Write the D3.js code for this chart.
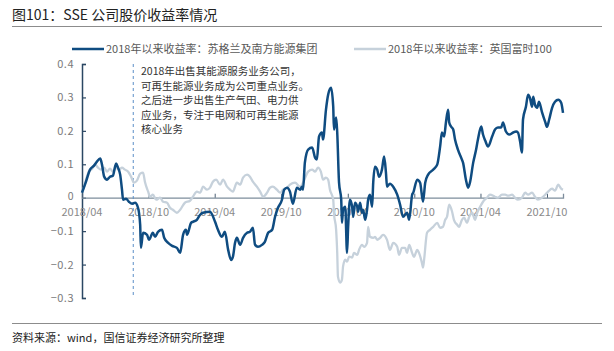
<!DOCTYPE html>
<html><head><meta charset="utf-8">
<script src="https://cdn.jsdelivr.net/npm/d3@7"></script>
<style>
html,body{margin:0;padding:0;background:#fff;}
svg{display:block;font-family:"Noto Sans CJK SC","Noto Sans",sans-serif;}
</style></head><body>
<svg id="c" width="614" height="351"></svg>
<script>
const title = "图101：SSE 公司股价收益率情况";
const source = "资料来源：wind，国信证券经济研究所整理";
const seriesNames = ["2018年以来收益率：苏格兰及南方能源集团", "2018年以来收益率：英国富时100"];
const annotationLines = ["2018年出售其能源服务业务公司，","可再生能源业务成为公司重点业务。","之后进一步出售生产气田、电力供","应业务，专注于电网和可再生能源","核心业务"];
const annotationDate = "2018-08-20";
const yTicks = [0.4, 0.3, 0.2, 0.1, 0, -0.1, -0.2, -0.3];
const xTickDates = ["2018-04-01","2018-10-01","2019-04-01","2019-10-01","2020-04-01","2020-10-01","2021-04-01","2021-10-01"];
const xTickLabels = ["2018/04","2018/10","2019/04","2019/10","2020/04","2020/10","2021/04","2021/10"];
const xDomain = ["2018-04-01","2021-11-14"];

const sseDates = ["2018-04-01","2018-04-12","2018-04-23","2018-05-04","2018-05-12","2018-05-21","2018-05-26","2018-06-01","2018-06-09","2018-06-17","2018-06-25","2018-07-01","2018-07-04","2018-07-09","2018-07-15","2018-07-20","2018-07-23","2018-07-31","2018-08-08","2018-08-17","2018-08-25","2018-09-02","2018-09-08","2018-09-10","2018-09-16","2018-09-27","2018-10-02","2018-10-13","2018-10-19","2018-10-27","2018-11-07","2018-11-13","2018-11-24","2018-12-05","2018-12-18","2018-12-27","2019-01-04","2019-01-12","2019-01-15","2019-01-26","2019-01-31","2019-02-11","2019-02-20","2019-02-28","2019-03-19","2019-04-02","2019-04-10","2019-04-21","2019-04-29","2019-05-08","2019-05-16","2019-05-21","2019-05-27","2019-06-01","2019-06-10","2019-06-18","2019-06-29","2019-07-07","2019-07-15","2019-07-21","2019-07-29","2019-08-09","2019-08-17","2019-08-26","2019-09-06","2019-09-14","2019-09-22","2019-10-03","2019-10-09","2019-10-17","2019-10-25","2019-11-02","2019-11-13","2019-11-22","2019-11-27","2019-11-30","2019-12-05","2019-12-14","2019-12-25","2020-01-02","2020-01-07","2020-01-13","2020-01-21","2020-01-24","2020-02-01","2020-02-07","2020-02-15","2020-02-21","2020-02-23","2020-02-29","2020-03-03","2020-03-08","2020-03-14","2020-03-16","2020-03-19","2020-03-25","2020-03-30","2020-04-02","2020-04-07","2020-04-13","2020-04-16","2020-04-21","2020-04-27","2020-04-29","2020-05-05","2020-05-10","2020-05-13","2020-05-19","2020-05-24","2020-05-27","2020-06-01","2020-06-07","2020-06-10","2020-06-15","2020-06-21","2020-06-26","2020-07-04","2020-07-10","2020-07-15","2020-07-18","2020-07-26","2020-08-04","2020-08-15","2020-08-23","2020-08-31","2020-09-11","2020-09-17","2020-09-25","2020-09-28","2020-10-09","2020-10-17","2020-10-25","2020-10-31","2020-11-08","2020-11-22","2020-12-03","2020-12-11","2020-12-16","2020-12-22","2020-12-27","2021-01-02","2021-01-05","2021-01-10","2021-01-16","2021-01-21","2021-01-29","2021-02-09","2021-02-12","2021-02-20","2021-02-26","2021-03-03","2021-03-12","2021-03-20","2021-03-25","2021-04-03","2021-04-08","2021-04-14","2021-04-22","2021-05-03","2021-05-11","2021-05-19","2021-05-28","2021-06-02","2021-06-10","2021-06-19","2021-06-30","2021-07-08","2021-07-13","2021-07-19","2021-07-24","2021-07-27","2021-08-04","2021-08-10","2021-08-15","2021-08-21","2021-08-24","2021-08-29","2021-09-04","2021-09-09","2021-09-17","2021-09-26","2021-10-01","2021-10-07","2021-10-15","2021-10-23","2021-11-01","2021-11-09","2021-11-14"];
const sseValues = [0.015,0.048,0.084,0.096,0.108,0.117,0.099,0.063,0.054,0.063,0.066,0.093,0.102,0.09,0.069,0.024,-0.006,-0.003,-0.012,-0.018,-0.015,-0.03,-0.081,-0.15,-0.105,-0.111,-0.126,-0.105,-0.117,-0.102,-0.096,-0.12,-0.135,-0.144,-0.15,-0.165,-0.111,-0.096,-0.111,-0.075,-0.072,-0.066,-0.051,-0.045,-0.042,-0.072,-0.096,-0.117,-0.102,-0.156,-0.186,-0.177,-0.135,-0.12,-0.141,-0.12,-0.105,-0.102,-0.09,-0.141,-0.147,-0.141,-0.132,-0.105,-0.096,-0.057,-0.03,-0.006,0.024,0.03,0.018,-0.018,0.03,0.024,0.033,0.024,0.105,0.144,0.15,0.12,0.114,0.183,0.195,0.174,0.263,0.308,0.329,0.272,0.204,0.24,0.195,0.045,-0.006,-0.075,-0.036,-0.027,-0.165,-0.087,-0.006,-0.027,-0.057,-0.015,-0.027,-0.042,-0.015,-0.045,-0.036,-0.066,-0.036,-0.006,0.009,-0.027,0.045,0.093,0.084,0.063,0.084,0.123,0.075,0.033,0.042,0.033,0.009,-0.021,-0.057,-0.045,-0.066,0.009,0.015,0.054,0.045,-0.012,0.045,0.069,0.084,0.099,0.153,0.195,0.183,0.225,0.263,0.225,0.213,0.204,0.174,0.144,0.114,0.105,0.054,0.03,0.045,0.105,0.144,0.174,0.213,0.189,0.171,0.153,0.183,0.204,0.21,0.21,0.225,0.198,0.189,0.195,0.198,0.195,0.168,0.135,0.234,0.272,0.308,0.299,0.272,0.302,0.278,0.269,0.287,0.257,0.227,0.212,0.234,0.269,0.287,0.293,0.284,0.254];

const ftseDates = ["2018-04-01","2018-04-07","2018-04-12","2018-04-20","2018-04-29","2018-05-07","2018-05-15","2018-05-23","2018-06-01","2018-06-09","2018-06-17","2018-06-25","2018-07-04","2018-07-12","2018-07-20","2018-07-28","2018-08-06","2018-08-14","2018-08-22","2018-08-30","2018-09-08","2018-09-16","2018-09-21","2018-09-30","2018-10-05","2018-10-13","2018-10-22","2018-11-02","2018-11-10","2018-11-21","2018-11-29","2018-12-07","2018-12-18","2018-12-27","2019-01-09","2019-01-23","2019-01-31","2019-02-11","2019-02-20","2019-02-28","2019-03-11","2019-03-19","2019-03-27","2019-04-05","2019-04-16","2019-04-24","2019-05-05","2019-05-13","2019-05-21","2019-06-01","2019-06-10","2019-06-18","2019-06-29","2019-07-07","2019-07-15","2019-07-26","2019-08-04","2019-08-12","2019-08-23","2019-08-31","2019-09-08","2019-09-19","2019-09-28","2019-10-06","2019-10-17","2019-10-25","2019-11-08","2019-11-22","2019-11-30","2019-12-14","2019-12-25","2020-01-02","2020-01-10","2020-01-18","2020-01-24","2020-02-01","2020-02-07","2020-02-12","2020-02-21","2020-02-23","2020-02-29","2020-03-03","2020-03-05","2020-03-11","2020-03-16","2020-03-19","2020-03-25","2020-03-30","2020-04-05","2020-04-13","2020-04-18","2020-04-27","2020-05-02","2020-05-10","2020-05-16","2020-05-24","2020-05-27","2020-06-01","2020-06-10","2020-06-15","2020-06-21","2020-06-29","2020-07-07","2020-07-18","2020-07-26","2020-08-04","2020-08-15","2020-08-20","2020-08-28","2020-09-06","2020-09-11","2020-09-17","2020-09-25","2020-09-30","2020-10-09","2020-10-14","2020-10-22","2020-10-25","2020-10-28","2020-11-05","2020-11-13","2020-11-22","2020-12-03","2020-12-11","2020-12-19","2020-12-25","2020-12-30","2021-01-05","2021-01-13","2021-01-18","2021-01-27","2021-02-01","2021-02-09","2021-02-15","2021-02-23","2021-03-01","2021-03-09","2021-03-17","2021-03-23","2021-03-31","2021-04-08","2021-04-19","2021-04-27","2021-05-11","2021-05-19","2021-05-30","2021-06-08","2021-06-16","2021-06-27","2021-07-05","2021-07-13","2021-07-24","2021-08-02","2021-08-10","2021-08-21","2021-08-29","2021-09-06","2021-09-17","2021-09-26","2021-10-04","2021-10-15","2021-10-23","2021-11-01","2021-11-09","2021-11-14"];
const ftseValues = [0.015,0.033,0.054,0.078,0.087,0.099,0.09,0.084,0.09,0.078,0.087,0.078,0.09,0.084,0.09,0.084,0.078,0.063,0.045,0.051,0.072,0.075,0.048,0.018,0.003,0.009,-0.006,0.0,-0.012,-0.015,-0.03,-0.036,-0.045,-0.036,-0.015,-0.009,0.003,0.018,0.015,0.033,0.024,0.03,0.048,0.054,0.039,0.054,0.033,0.024,0.018,0.045,0.039,0.06,0.069,0.063,0.048,0.033,0.018,0.003,0.015,0.03,0.033,0.024,0.015,0.024,0.03,0.039,0.045,0.033,0.045,0.078,0.084,0.078,0.09,0.078,0.054,0.06,0.054,0.024,-0.006,-0.045,-0.096,-0.165,-0.236,-0.254,-0.245,-0.206,-0.185,-0.191,-0.176,-0.179,-0.165,-0.171,-0.156,-0.141,-0.147,-0.135,-0.087,-0.117,-0.12,-0.117,-0.126,-0.12,-0.111,-0.126,-0.156,-0.135,-0.147,-0.171,-0.15,-0.15,-0.165,-0.141,-0.165,-0.177,-0.156,-0.165,-0.195,-0.209,-0.185,-0.105,-0.096,-0.087,-0.075,-0.09,-0.087,-0.066,-0.057,-0.021,-0.042,-0.066,-0.081,-0.087,-0.066,-0.06,-0.075,-0.057,-0.045,-0.066,-0.045,-0.027,-0.012,0.0,0.009,0.003,0.0,0.009,0.009,0.006,0.009,0.0,-0.006,0.0,0.015,0.009,0.015,0.003,-0.006,0.0,0.009,0.018,0.027,0.021,0.039,0.027,0.024];

const parse = d3.utcParse("%Y-%m-%d");
const zipSeries = (ds, vs) => d3.range(Math.min(ds.length, vs.length)).map(i => ({date: parse(ds[i]), value: vs[i]}));
const sse = zipSeries(sseDates, sseValues);
const ftse = zipSeries(ftseDates, ftseValues);

const svg = d3.select("#c");
const x = d3.scaleUtc().domain(xDomain.map(parse)).range([82, 563]);
const y = d3.scaleLinear().domain([-0.3, 0.4]).range([298, 64]);

// title
svg.append("text").attr("x", 12).attr("y", 20).attr("font-size", 14).attr("fill", "#222").text(title);
svg.append("line").attr("x1", 12).attr("x2", 602).attr("y1", 26.5).attr("y2", 26.5).attr("stroke", "#8c8c8c").attr("stroke-width", 1);

// footer
svg.append("line").attr("x1", 12).attr("x2", 602).attr("y1", 323.5).attr("y2", 323.5).attr("stroke", "#8c8c8c").attr("stroke-width", 1);
svg.append("text").attr("x", 12).attr("y", 342).attr("font-size", 11).attr("fill", "#222").text(source);

// legend
const legColors = ["#0f4c81", "#c6d1db"];
const legX = [72, 354];
seriesNames.forEach((n, i) => {
  svg.append("line").attr("x1", legX[i]).attr("x2", legX[i] + 32).attr("y1", 49).attr("y2", 49)
    .attr("stroke", legColors[i]).attr("stroke-width", 2.5);
  svg.append("text").attr("x", legX[i] + 34).attr("y", 53).attr("font-size", 11).attr("fill", "#595959").text(n);
});

// y axis
const yAxis = d3.axisRight(y).tickValues(yTicks).tickSize(4).tickFormat("");
const gy = svg.append("g").attr("transform", "translate(82,0)").call(yAxis);
gy.select(".domain").attr("stroke", "#2b4763").attr("stroke-width", 1.5);
gy.selectAll(".tick line").attr("stroke", "#2b4763").attr("stroke-width", 1.2);
svg.append("g").selectAll("text").data(yTicks).join("text")
  .attr("x", 74).attr("y", d => y(d) + (d === 0 ? 2.5 : 4)).attr("text-anchor", "end")
  .attr("font-size", d => d === 0 ? 10.5 : 11).attr("fill", "#7a7a7a").attr("letter-spacing", 0.5)
  .text(d => d === 0 ? "0" : (d < 0 ? "\u2212" : "") + Math.abs(d).toFixed(1));

// x axis at zero
const xAxis = d3.axisTop(x).tickValues(xTickDates.map(parse)).tickSize(4).tickFormat("");
const gx = svg.append("g").attr("transform", `translate(0,${y(0)})`).call(xAxis);
gx.select(".domain").attr("stroke", "#7d8d9c").attr("stroke-width", 1.3);
gx.selectAll(".tick line").attr("stroke", "#4a5f73");
svg.append("g").selectAll("text").data(xTickDates).join("text")
  .attr("x", d => x(parse(d))).attr("y", y(0) + 18).attr("text-anchor", "middle")
  .attr("font-size", 11).attr("fill", "#8a8a8a")
  .text((d, i) => xTickLabels[i]);

// annotation dashed line
svg.append("line").attr("x1", x(parse(annotationDate))).attr("x2", x(parse(annotationDate)))
  .attr("y1", y(0.4)).attr("y2", y(-0.3)).attr("stroke", "#5b8fc7").attr("stroke-width", 1)
  .attr("stroke-dasharray", "3,3");
svg.append("g").selectAll("text").data(annotationLines).join("text")
  .attr("x", 141).attr("y", (d, i) => 75 + i * 14.6).attr("font-size", 10.5).attr("fill", "#333")
  .text(d => d);

// lines
const line = d3.line().x(d => x(d.date)).y(d => y(d.value)).curve(d3.curveMonotoneX);
svg.append("path").datum(ftse).attr("d", line).attr("fill", "none")
  .attr("stroke", legColors[1]).attr("stroke-width", 2.3).attr("stroke-linejoin", "round");
svg.append("path").datum(sse).attr("d", line).attr("fill", "none")
  .attr("stroke", legColors[0]).attr("stroke-width", 2.5).attr("stroke-linejoin", "round");
</script>
</body></html>
